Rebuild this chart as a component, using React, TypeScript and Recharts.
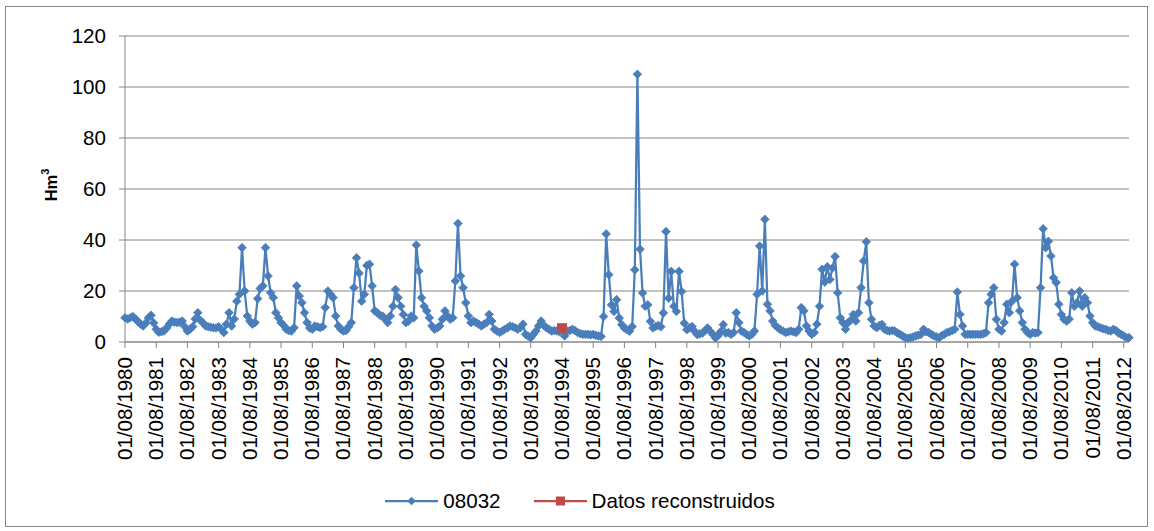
import { LineChart, Line, XAxis, YAxis, CartesianGrid, Legend } from "recharts";

// monthly volume, Hm3, station 08032 (Aug 1980 .. Oct 2012)
const flow08032: number[] = [
  9.5, 9.0, 9.5, 10.0, 9.0, 8.0, 7.0, 6.3, 7.5, 9.5, 10.5, 7.5,
  5.0, 3.8, 4.0, 4.3, 5.5, 7.0, 8.2, 7.8, 7.6, 7.8, 8.2, 6.0,
  4.3, 5.0, 6.0, 9.0, 11.5, 8.5, 7.5, 6.3, 6.0, 5.8, 5.6, 5.5,
  6.0, 5.0, 3.7, 7.0, 11.5, 6.3, 9.0, 16.0, 18.7, 37.0, 20.0, 10.2,
  8.2, 7.0, 7.6, 17.0, 21.0, 22.0, 37.0, 25.9, 19.3, 17.4, 11.5, 9.5,
  7.6, 6.5, 5.0, 4.5, 4.3, 5.6, 22.0, 18.0, 15.4, 11.5, 7.6, 5.5,
  5.0, 6.3, 6.0, 5.6, 6.0, 13.5, 20.0, 18.7, 17.4, 10.2, 6.3, 5.0,
  4.3, 4.5, 6.0, 7.6, 21.3, 33.0, 27.0, 16.0, 18.7, 30.0, 30.5, 22.0,
  12.2, 11.5, 10.5, 10.2, 8.9, 7.6, 10.2, 14.0, 20.6, 17.4, 14.0, 10.8,
  7.6, 8.2, 10.2, 9.5, 38.0, 27.8, 17.4, 14.0, 12.2, 9.5, 6.3, 5.0,
  5.5, 6.3, 8.9, 12.2, 10.2, 8.9, 9.5, 23.9, 46.5, 25.9, 21.3, 15.4,
  10.2, 7.6, 8.2, 7.6, 7.0, 6.3, 7.0, 7.6, 10.8, 8.2, 5.0, 4.3,
  3.7, 4.3, 5.0, 5.5, 6.3, 6.0, 5.6, 5.0, 5.6, 7.0, 3.0, 2.3,
  1.7, 3.0, 4.3, 6.3, 8.2, 6.5, 5.6, 5.0, 4.3, 4.5, 4.3, 4.0,
  5.4, 2.4, 4.3, 4.5, 5.0, 4.5, 3.7, 3.3, 3.0, 3.0, 3.0, 2.8,
  3.0, 2.6, 2.4, 2.2, 10.0, 42.4, 26.4, 14.6, 12.0, 16.6, 9.4, 6.8,
  5.5, 4.8, 4.2, 6.1, 28.3, 105.0, 36.4, 19.2, 14.0, 14.6, 8.1, 5.5,
  6.1, 6.5, 6.0, 11.4, 43.3, 17.2, 27.7, 14.0, 12.0, 27.7, 19.8, 7.4,
  4.8, 5.5, 6.1, 4.2, 2.9, 3.2, 3.5, 4.5, 5.5, 4.2, 3.0, 1.6,
  2.5, 4.0, 6.8, 3.5, 3.7, 3.0, 3.7, 11.5, 7.6, 4.3, 3.7, 3.0,
  2.4, 3.0, 4.3, 18.7, 37.6, 20.0, 48.1, 14.8, 12.2, 8.2, 6.5, 5.6,
  4.8, 4.3, 3.7, 4.0, 4.3, 4.0, 3.7, 5.0, 13.5, 12.2, 6.3, 4.3,
  3.0, 3.7, 7.0, 14.0, 28.5, 23.5, 29.5, 24.5, 29.0, 33.5, 19.3, 9.5,
  7.6, 5.0, 7.6, 8.5, 10.8, 8.2, 11.5, 21.3, 31.8, 39.3, 15.4, 8.9,
  6.3, 5.6, 6.5, 6.9, 5.0, 4.5, 4.3, 4.5, 4.3, 3.5, 3.0, 2.3,
  1.7, 1.5, 1.7, 2.0, 2.4, 2.7, 3.0, 5.0, 4.0, 3.7, 3.0, 2.4,
  2.0, 1.7, 2.5, 3.0, 3.7, 4.0, 4.5, 5.0, 19.6, 10.8, 6.3, 3.0,
  3.0, 3.0, 3.0, 3.0, 3.0, 3.0, 3.2, 3.7, 15.4, 18.7, 21.3, 8.9,
  5.0, 4.3, 7.6, 14.8, 11.5, 16.0, 30.5, 17.4, 12.2, 7.6, 5.0, 3.7,
  3.0, 3.7, 3.5, 3.7, 21.3, 44.4, 37.0, 39.5, 33.7, 25.2, 23.3, 14.8,
  10.8, 8.9, 8.2, 9.0, 19.3, 14.0, 15.4, 20.0, 14.0, 17.4, 15.4, 10.2,
  7.6, 6.3, 6.0, 5.6, 5.2, 5.0, 4.5, 4.3, 5.0, 4.5, 3.5, 3.0,
  2.4, 1.7, 1.7,
];

const yearLabels: string[] = [
  "01/08/1980", "01/08/1981", "01/08/1982", "01/08/1983", "01/08/1984",
  "01/08/1985", "01/08/1986", "01/08/1987", "01/08/1988", "01/08/1989",
  "01/08/1990", "01/08/1991", "01/08/1992", "01/08/1993", "01/08/1994",
  "01/08/1995", "01/08/1996", "01/08/1997", "01/08/1998", "01/08/1999",
  "01/08/2000", "01/08/2001", "01/08/2002", "01/08/2003", "01/08/2004",
  "01/08/2005", "01/08/2006", "01/08/2007", "01/08/2008", "01/08/2009",
  "01/08/2010", "01/08/2011", "01/08/2012",
];

// reconstructed values (date -> Hm3)
const reconDates: string[] = ["01/08/1994"];
const reconValues: number[] = [5.4];

const yTicks = [0, 20, 40, 60, 80, 100, 120];

const BLUE = "#4a7ebb";
const RED = "#be4b48";
const GRID = "#868686";
const FONT = "'Liberation Sans', Arial, sans-serif";
const FS = 20.6;

const reconIndex = reconDates.map((d) => yearLabels.indexOf(d) * 12);

const data = flow08032.map((v, idx) => {
  const r = reconIndex.indexOf(idx);
  return { idx, flow: v, recon: r >= 0 ? reconValues[r] : null };
});

const xTicks = yearLabels.map((_, k) => k * 12);

const Diamond = (props: any) => {
  const { cx, cy, index } = props;
  if (cx == null || cy == null) return <g key={`d-${index}`} />;
  const r = 4.3;
  return (
    <path
      key={`d-${index}`}
      d={`M${cx},${cy - r}L${cx + r},${cy}L${cx},${cy + r}L${cx - r},${cy}Z`}
      fill={BLUE}
      stroke={BLUE}
      strokeWidth={0.8}
    />
  );
};

const Square = (props: any) => {
  const { cx, cy, index, value } = props;
  if (cx == null || cy == null || value == null) return <g key={`s-${index}`} />;
  return <rect key={`s-${index}`} x={cx - 4.5} y={cy - 4.5} width={9} height={9} fill={RED} stroke={RED} />;
};

const YearTick = ({ x, y, payload }: any) => (
  <text
    transform={`translate(${x + 7},${y + 7}) rotate(-90)`}
    textAnchor="end"
    fontSize={FS}
    fontFamily={FONT}
    fill="#000"
  >
    {yearLabels[Math.round(payload.value / 12)]}
  </text>
);

const AxisTitle = (props: any) => {
  const vb = props.viewBox || { x: 0, y: 36, width: 125, height: 306 };
  const cx = vb.x + 51;
  const cy = vb.y + vb.height / 2 - 4;
  return (
    <text
      transform={`translate(${cx},${cy}) rotate(-90)`}
      textAnchor="middle"
      dominantBaseline="central"
      fontSize={16.5}
      fontWeight="bold"
      fontFamily={FONT}
      fill="#000"
    >
      Hm<tspan dy={-6} fontSize={11}>3</tspan>
    </text>
  );
};

const LegendBox = () => (
  <div
    style={{
      display: "flex",
      justifyContent: "center",
      alignItems: "center",
      paddingLeft: 6,
      fontFamily: FONT,
      fontSize: FS,
      color: "#000",
    }}
  >
    <svg width={53} height={12} style={{ marginRight: 5 }}>
      <line x1={0} y1={6} x2={53} y2={6} stroke={BLUE} strokeWidth={2.25} />
      <path d="M26.5,1.7L30.8,6L26.5,10.3L22.2,6Z" fill={BLUE} />
    </svg>
    <span style={{ marginRight: 33 }}>08032</span>
    <svg width={53} height={12} style={{ marginRight: 5 }}>
      <line x1={0} y1={6} x2={53} y2={6} stroke={RED} strokeWidth={2.25} />
      <rect x={22} y={1.5} width={9} height={9} fill={RED} />
    </svg>
    <span>Datos reconstruidos</span>
  </div>
);

export default function App() {
  return (
    <div style={{ position: "absolute", left: 0, top: 0, width: 1154, height: 531, background: "#fff" }}>
      <div
        style={{
          position: "absolute",
          left: 5,
          top: 6,
          width: 1143,
          height: 521,
          border: `1px solid ${GRID}`,
          boxSizing: "border-box",
        }}
      />
      <LineChart
        width={1154}
        height={531}
        data={data}
        margin={{ top: 36, right: 25, left: 0, bottom: 0 }}
        style={{ position: "absolute", left: 0, top: 0 }}
      >
        <CartesianGrid vertical={false} stroke={GRID} strokeWidth={1} />
        <XAxis
          dataKey="idx"
          type="number"
          domain={[0, flow08032.length - 1]}
          ticks={xTicks}
          interval={0}
          height={189}
          tickSize={6}
          axisLine={{ stroke: GRID }}
          tickLine={{ stroke: GRID }}
          tick={<YearTick />}
        />
        <YAxis
          domain={[0, 120]}
          ticks={yTicks}
          interval={0}
          width={125}
          tickSize={6}
          tickMargin={13}
          axisLine={{ stroke: GRID }}
          tickLine={{ stroke: GRID }}
          tick={{ fontSize: FS, fill: "#000", fontFamily: FONT }}
          label={AxisTitle}
        />
        <Legend
          verticalAlign="middle"
          content={<LegendBox />}
          wrapperStyle={{ top: 489, left: 0, width: 1154 }}
        />
        <Line
          type="linear"
          dataKey="flow"
          stroke={BLUE}
          strokeWidth={2.25}
          dot={Diamond}
          activeDot={false}
          isAnimationActive={false}
        />
        <Line
          type="linear"
          dataKey="recon"
          stroke={RED}
          strokeWidth={2.25}
          dot={Square}
          activeDot={false}
          connectNulls={false}
          isAnimationActive={false}
        />
      </LineChart>
    </div>
  );
}
